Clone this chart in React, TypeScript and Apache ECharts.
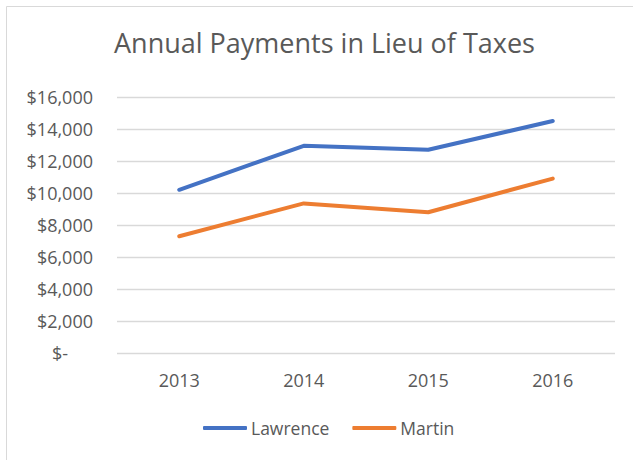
import React, { useEffect, useRef } from "react";
import * as echarts from "echarts";

const years = ["2013", "2014", "2015", "2016"];
const lawrence = [10200, 12950, 12700, 14500];
const martin = [7300, 9350, 8800, 10900];
const titleText = "Annual Payments in Lieu of Taxes";

const FONT = "'Open Sans', sans-serif";
const TEXT = "#595959";

function fmt(v: number): string {
  if (v === 0) return "{z|$-}";
  return "$" + v.toLocaleString("en-US");
}

export default function App() {
  const ref = useRef<HTMLDivElement>(null);
  useEffect(() => {
    document.body.style.margin = "0";
    if (!ref.current) return;
    const chart = echarts.init(ref.current, undefined, { renderer: "svg" });
    chart.setOption({
      animation: false,
      backgroundColor: "#ffffff",
      title: {
        text: titleText,
        left: 114,
        top: 29,
        padding: 0,
        textStyle: { fontFamily: FONT, fontSize: 27, fontWeight: "normal", color: TEXT },
      },
      graphic: [
        {
          type: "rect",
          shape: { x: 6.5, y: 6.5, width: 640, height: 460 },
          style: { fill: "none", stroke: "#d9d9d9", lineWidth: 1 },
          silent: true,
        },
      ],
      legend: {
        top: 419,
        left: 203,
        padding: 0,
        itemWidth: 44,
        itemHeight: 4,
        itemGap: 23,
        icon: "roundRect",
        data: ["Lawrence", "Martin"],
        textStyle: { fontFamily: FONT, fontSize: 17.5, color: TEXT, padding: [0, 0, 0, -1] },
      },
      grid: { left: 117, right: 18, top: 97, bottom: 107 },
      xAxis: {
        type: "category",
        data: years,
        boundaryGap: true,
        axisLine: { show: false },
        axisTick: { show: false },
        axisLabel: { fontFamily: FONT, fontSize: 18, color: TEXT, margin: 18 },
      },
      yAxis: {
        type: "value",
        min: 0,
        max: 16000,
        interval: 2000,
        axisLine: { show: false },
        axisTick: { show: false },
        splitLine: { lineStyle: { color: "#d9d9d9", width: 1.3 } },
        axisLabel: {
          fontFamily: FONT,
          fontSize: 18,
          color: TEXT,
          margin: 24,
          formatter: (v: number) => fmt(v),
          rich: {
            z: { fontFamily: FONT, fontSize: 18, color: TEXT, padding: [0, 25, 0, 0] },
          },
        },
      },
      series: [
        {
          name: "Lawrence",
          type: "line",
          data: lawrence,
          symbol: "none",
          color: "#4472C4",
          lineStyle: { width: 4, cap: "round", join: "round" },
        },
        {
          name: "Martin",
          type: "line",
          data: martin,
          symbol: "none",
          color: "#ED7D31",
          lineStyle: { width: 4, cap: "round", join: "round" },
        },
      ],
    });
    return () => chart.dispose();
  }, []);
  return <div ref={ref} style={{ width: 633, height: 460 }} />;
}
